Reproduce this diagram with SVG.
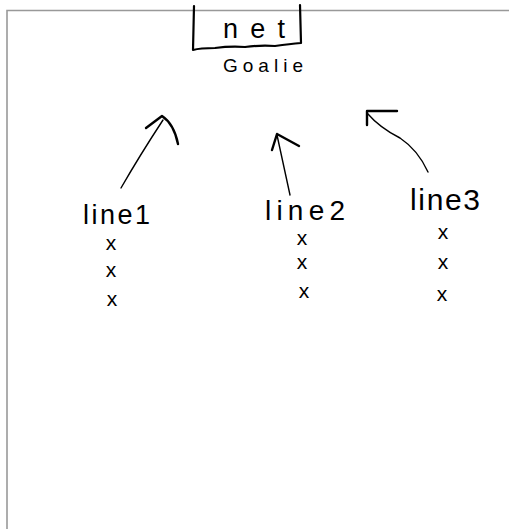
<svg xmlns="http://www.w3.org/2000/svg" width="509" height="529" viewBox="0 0 509 529">
<style>
.hand{font-family:"Liberation Sans","DejaVu Sans",sans-serif;fill:#000}
.xm{font-size:21px;text-anchor:middle}
.ink{fill:none;stroke:#000;stroke-linecap:round;stroke-linejoin:round}
.shaft{stroke-width:1.4}
.head{stroke-width:2.4}
</style>
<rect width="509" height="529" fill="#fff"/>
<path d="M7,529 V10.5 H509" fill="none" stroke="#999" stroke-width="1.6"/>
<g id="net">
<path class="ink" stroke-width="2.2" d="M194,6 L193,50 Q200,48 215,48 Q230,46 245,47 Q260,45 275,46 Q290,44 301,43 L300,5"/>
<text class="hand" x="223" y="38" font-size="27" textLength="62" lengthAdjust="spacing">net</text>
</g>
<g id="goalie">
<text class="hand" x="223" y="72" font-size="19" textLength="80" lengthAdjust="spacing">Goalie</text>
</g>
<g id="line1">
<text class="hand" x="83" y="224" font-size="27" textLength="67" lengthAdjust="spacing">line1</text>
<text class="hand xm" x="111" y="250">x</text>
<text class="hand xm" x="111" y="277">x</text>
<text class="hand xm" x="112" y="306">x</text>
</g>
<g id="line2">
<text class="hand" x="265" y="219.5" font-size="28" textLength="80" lengthAdjust="spacing">line2</text>
<text class="hand xm" x="302" y="245">x</text>
<text class="hand xm" x="302" y="269">x</text>
<text class="hand xm" x="304" y="298">x</text>
</g>
<g id="line3">
<text class="hand" x="410" y="210" font-size="30" textLength="70" lengthAdjust="spacing">line3</text>
<text class="hand xm" x="443" y="239">x</text>
<text class="hand xm" x="443" y="269">x</text>
<text class="hand xm" x="442" y="301">x</text>
</g>
<g id="connectors">
<path class="ink shaft" d="M121,188 Q140,155 163,120"/>
<path class="ink head" d="M146,128 L162,116 Q174,124 178,144"/>
<path class="ink shaft" d="M290,195 L277,135"/>
<path class="ink head" d="M272,150 L277,134 L299,146"/>
<path class="ink shaft" d="M428,172 Q418,150 400,138 Q380,128 367,113"/>
<path class="ink head" d="M367,125 L367,111 L397,111"/>
</g>
</svg>
